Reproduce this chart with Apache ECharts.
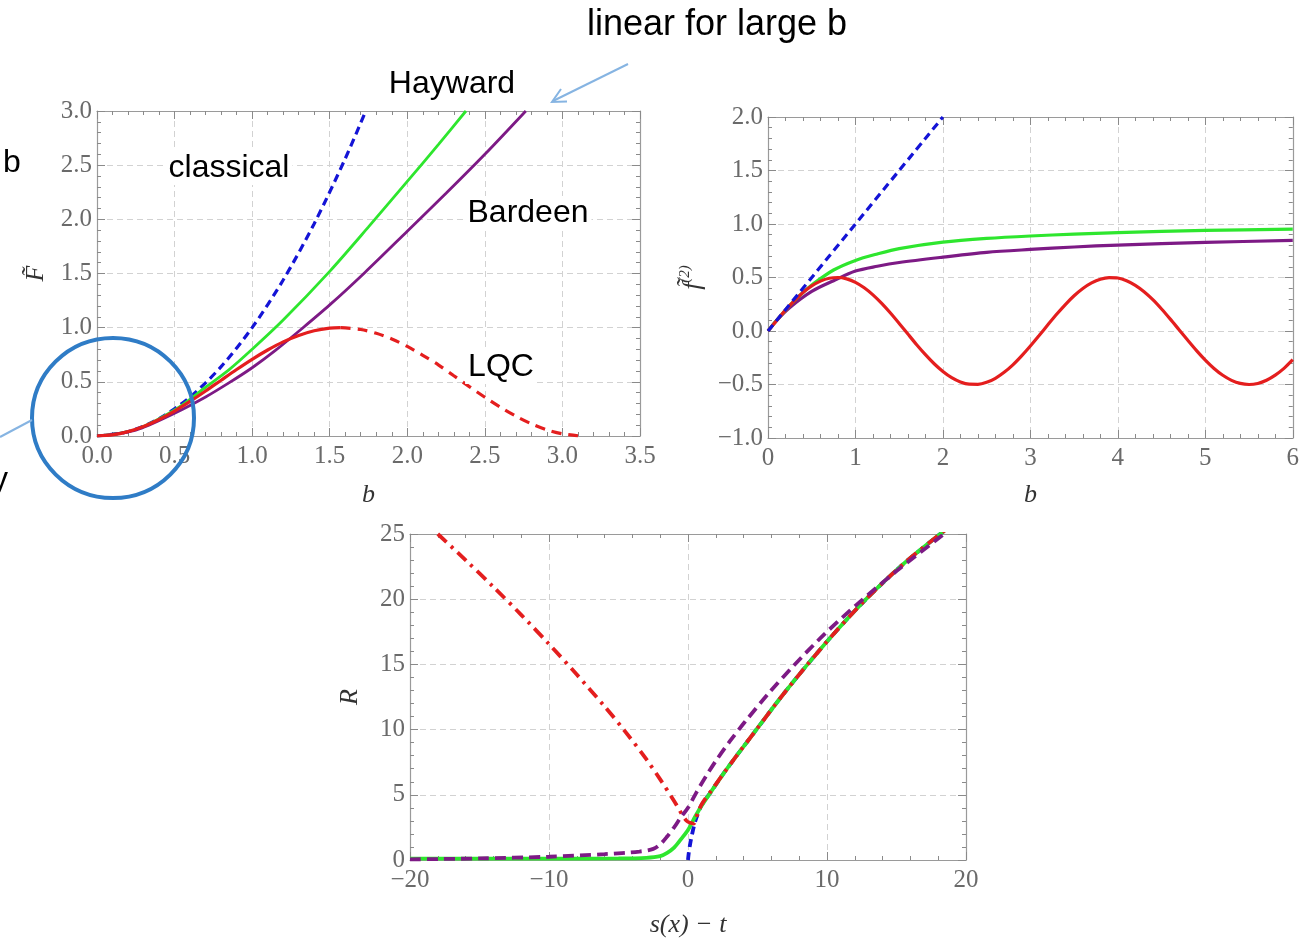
<!DOCTYPE html>
<html>
<head>
<meta charset="utf-8">
<title>F, f2 and R curves</title>
<script src="https://cdn.jsdelivr.net/npm/echarts@6.0.0/dist/echarts.min.js"></script>
<style>
    html, body { margin: 0; padding: 0; background: #fff; overflow: hidden; }
    #main { width: 1302px; height: 940px; }
</style>
</head>
<body>
<div id="main"></div>
<script>
var mychart = echarts.init(document.getElementById('main'));

// ---- panel 1: F~ vs b ----
var fClassical = [[0, 0], [0.2, 0.04], [0.4, 0.16], [0.6, 0.36], [0.8, 0.64], [1.0, 1.0], [1.2, 1.44], [1.4, 1.96], [1.6, 2.56], [1.732, 3.0]];
var fHayward = [[0, 0], [0.25, 0.06], [0.5, 0.24], [0.7, 0.45], [0.85, 0.61], [1.0, 0.8], [1.2, 1.07], [1.5, 1.52], [1.75, 1.93], [2.0, 2.35], [2.2, 2.69], [2.378, 3.0]];
var fBardeen = [[0, 0], [0.25, 0.055], [0.5, 0.21], [0.7, 0.36], [0.85, 0.49], [1.0, 0.63], [1.15, 0.79], [1.32, 0.99], [1.5, 1.21], [1.727, 1.51], [2.0, 1.89], [2.25, 2.24], [2.5, 2.6], [2.764, 3.0]];
var fLqcSolid = [[0, 0], [0.1, 0.01], [0.2, 0.04], [0.3, 0.087], [0.4, 0.152], [0.5, 0.23], [0.6, 0.319], [0.7, 0.415], [0.8, 0.515], [0.9, 0.614], [1.0, 0.708], [1.1, 0.794], [1.2, 0.869], [1.3, 0.928], [1.4, 0.971], [1.5, 0.995], [1.57, 1.0]];
var fLqcDashed = [[1.57, 1.0], [1.7, 0.983], [1.8, 0.948], [1.9, 0.896], [2.0, 0.827], [2.1, 0.745], [2.2, 0.657], [2.3, 0.556], [2.4, 0.456], [2.5, 0.358], [2.6, 0.266], [2.7, 0.183], [2.8, 0.112], [2.9, 0.057], [3.0, 0.02], [3.1, 0.002]];

// ---- panel 2: f~(2) vs b ----
var gClassical = [[0, 0], [2, 2]];
var gHayward = [[0, 0], [0.1, 0.1], [0.25, 0.24], [0.4, 0.36], [0.5, 0.43], [0.75, 0.57], [1, 0.66], [1.25, 0.72], [1.5, 0.77], [2, 0.83], [2.5, 0.865], [3, 0.888], [3.5, 0.905], [4, 0.92], [5, 0.94], [6, 0.952]];
var gBardeen = [[0, 0], [0.1, 0.1], [0.25, 0.22], [0.5, 0.37], [0.75, 0.47], [1, 0.56], [1.25, 0.605], [1.5, 0.64], [2, 0.69], [2.5, 0.735], [3, 0.762], [3.5, 0.785], [4, 0.803], [5, 0.828], [6, 0.847]];
var gLqcB = [0, 0.1, 0.2, 0.3, 0.4, 0.5, 0.6, 0.7, 0.8, 0.9, 1.0, 1.1, 1.2, 1.3, 1.4, 1.5, 1.6, 1.7, 1.8, 1.9, 2.0, 2.1, 2.2, 2.3, 2.4, 2.5, 2.6, 2.7, 2.8, 2.9, 3.0,
    3.1, 3.2, 3.3, 3.4, 3.5, 3.6, 3.7, 3.8, 3.9, 4.0, 4.1, 4.2, 4.3, 4.4, 4.5, 4.6, 4.7, 4.8, 4.9, 5.0, 5.1, 5.2, 5.3, 5.4, 5.5, 5.6, 5.7, 5.8, 5.9, 6.0];
var gLqcV = [0, 0.099, 0.195, 0.282, 0.359, 0.421, 0.466, 0.493, 0.5, 0.487, 0.455, 0.404, 0.338, 0.258, 0.168, 0.071, -0.029, -0.128, -0.221, -0.306, -0.378, -0.436, -0.476, -0.497, -0.498, -0.48, -0.442, -0.386, -0.316, -0.232, -0.14,
    -0.042, 0.058, 0.156, 0.247, 0.329, 0.397, 0.449, 0.484, 0.499, 0.495, 0.47, 0.427, 0.367, 0.293, 0.206, 0.111, 0.012, -0.087, -0.183, -0.272, -0.35, -0.414, -0.461, -0.49, -0.5, -0.49, -0.46, -0.412, -0.349, -0.268];

// ---- panel 3: R vs s(x)-t ----
var rClassical = [[0, 0], [0.05, 0.5], [0.15, 1.2], [0.3, 2.0], [0.5, 2.9], [0.8, 3.8], [1.0, 4.25], [1.7, 5.3], [2.5, 6.55], [3.5, 8.0], [4.85, 9.9], [6.7, 12.5], [8.6, 15], [10.7, 17.6], [12.9, 20.1], [15.6, 22.8], [18.5, 25.3]];
var rHayward = [[-20, 0.1], [-10, 0.1], [-5, 0.12], [-3, 0.17], [-2, 0.3], [-1.5, 0.55], [-1, 0.95], [-0.5, 1.6], [0, 2.3], [0.5, 3.3], [1, 4.2], [1.7, 5.3], [2.5, 6.55], [3.5, 8.0], [4.85, 9.9], [6.7, 12.5], [8.6, 15], [10.7, 17.6], [12.9, 20.1], [15.6, 22.8], [18.5, 25.3]];
var rBardeen = [[-20, 0.05], [-15, 0.12], [-10, 0.25], [-6, 0.45], [-3.5, 0.65], [-2.5, 0.85], [-2, 1.2], [-1.5, 1.8], [-1, 2.5], [-0.5, 3.3], [0, 4.0], [0.6, 5.17], [1.3, 6.43], [2, 7.59], [3, 9.09], [4.1, 10.6], [5.8, 12.78], [7.6, 14.9], [9.8, 17.3], [12.1, 19.55], [15, 22.16], [18.3, 24.9], [18.6, 25.15]];
var rLqc = [[-18, 25], [-16, 23.0], [-14, 20.94], [-12, 18.8], [-10, 16.56], [-8, 14.22], [-6, 11.78], [-4.5, 9.83], [-3, 7.73], [-2, 6.18], [-1, 4.53], [-0.1, 3.0], [0.4, 2.8], [0.7, 3.6], [1.0, 4.3], [1.7, 5.35], [2.5, 6.55], [3.5, 8.0], [4.85, 9.9], [6.7, 12.5], [8.6, 15], [10.7, 17.6], [12.9, 20.1], [15.6, 22.8], [18.5, 25.3]];

var BLUE = '#1414d6', GREEN = '#2ee62e', PURPLE = '#7d1a85', RED = '#e41e1e';
var FRAME = '#9a9a9a';
var SERIF = '"Liberation Serif", "DejaVu Serif", serif';
var SANS = '"Liberation Sans", Arial, sans-serif';

function minusSign(s) {
    return String(s).replace('-', '\u2212');
}

function pair(xs, ys) {
    var out = [];
    for (var i = 0; i < xs.length; i++) {
        out.push([xs[i], ys[i]]);
    }
    return out;
}

var nameStyle = {
    fontFamily: SERIF, fontStyle: 'italic', fontSize: 26, color: '#333',
    rich: {
        f: { fontFamily: SERIF, fontStyle: 'italic', fontSize: 26, color: '#333', lineHeight: 30 },
        s: { fontFamily: SERIF, fontSize: 15, color: '#333', verticalAlign: 'top', lineHeight: 30 }
    }
};

function frameBase(grid, min, max, step) {
    return {
        gridIndex: grid, type: 'value', min: min, max: max, interval: step,
        axisLine: { show: true, onZero: false, lineStyle: { color: FRAME, width: 1.2 } },
        axisTick: { show: true, inside: true, length: 8, lineStyle: { color: '#8a8a8a' } },
        minorTick: { show: true, splitNumber: 5, length: 4, lineStyle: { color: '#8a8a8a' } }
    };
}

// labelled axis plus a bare mirror axis: a Mathematica style frame
function frameAxes(grid, min, max, step, digits, name, nameGap, sides, margin) {
    var main = frameBase(grid, min, max, step);
    main.position = sides[0];
    main.axisLabel = {
        margin: margin, color: '#6a6a6a', fontFamily: SERIF, fontSize: 25,
        formatter: function (v) { return minusSign(v.toFixed(digits)); }
    };
    main.splitLine = { show: true, lineStyle: { color: '#d2d2d2', type: [6, 4] } };
    main.name = name;
    main.nameLocation = 'middle';
    main.nameGap = nameGap;
    main.nameTextStyle = nameStyle;

    var mirror = frameBase(grid, min, max, step);
    mirror.position = sides[1];
    mirror.axisLabel = { show: false };
    mirror.splitLine = { show: false };
    return [main, mirror];
}

function curve(data, axis, color, width, dash, z) {
    return {
        type: 'line',
        xAxisIndex: axis * 2,
        yAxisIndex: axis * 2,
        data: data,
        showSymbol: false,
        symbol: 'none',
        smooth: 0.3,
        z: z,
        silent: true,
        lineStyle: { color: color, width: width, type: dash || 'solid', cap: 'butt' }
    };
}

function note(text, x, y, size, boxed) {
    var st = { text: text, font: size + 'px ' + SANS, fill: '#000', align: 'center', verticalAlign: 'middle' };
    if (boxed) {
        st.backgroundColor = '#fff';
        st.padding = [1, 3];
    }
    return { type: 'text', x: x, y: y, z: 50, style: st };
}

option = {
    backgroundColor: '#fff',
    animation: false,
    grid: [
        { left: 97, top: 111, width: 543, height: 325 },
        { left: 768, top: 117, width: 536, height: 321 },
        { left: 410, top: 534, width: 556, height: 326 }
    ],
    xAxis: [].concat(
        frameAxes(0, 0, 3.5, 0.5, 1, 'b', 46, ['bottom', 'top'], 8),
        frameAxes(1, 0, 6, 1, 0, 'b', 44, ['bottom', 'top'], 8),
        frameAxes(2, -20, 20, 10, 0, 's(x) \u2212 t', 52, ['bottom', 'top'], 8)
    ),
    yAxis: [].concat(
        frameAxes(0, 0, 3, 0.5, 1, 'F\u0303', 48, ['left', 'right'], 5),
        frameAxes(1, -1, 2, 0.5, 1, '{f|f\u0303}{s|(2)}', 60, ['left', 'right'], 5),
        frameAxes(2, 0, 25, 5, 0, 'R', 47, ['left', 'right'], 5)
    ),
    series: [
        // panel 1
        curve(fClassical, 0, BLUE, 3.2, [8, 5], 2),
        curve(fHayward, 0, GREEN, 2.8, 'solid', 3),
        curve(fBardeen, 0, PURPLE, 2.8, 'solid', 4),
        curve(fLqcSolid, 0, RED, 3.2, 'solid', 5),
        curve(fLqcDashed, 0, RED, 3.2, [10, 7], 5),
        // panel 2
        curve(gBardeen, 1, PURPLE, 3.2, 'solid', 2),
        curve(gHayward, 1, GREEN, 3.2, 'solid', 3),
        curve(pair(gLqcB, gLqcV), 1, RED, 3.2, 'solid', 4),
        curve(gClassical, 1, BLUE, 3.2, [8, 5], 5),
        // panel 3
        curve(rClassical, 2, BLUE, 3.8, [8, 5], 2),
        curve(rHayward, 2, GREEN, 3.8, 'solid', 3),
        curve(rLqc, 2, RED, 3.8, [12, 6, 3, 6], 4),
        curve(rBardeen, 2, PURPLE, 3.8, [11, 6], 5)
    ],
    graphic: [
        note('linear for large b', 717, 25, 36, false),
        note('Hayward', 452, 84, 32, false),
        note('classical', 229, 168, 32, true),
        note('Bardeen', 528, 213, 32, true),
        note('LQC', 501, 367, 32, true),
        { type: 'text', x: 3, y: 163, style: { text: 'b', font: '32px ' + SANS, fill: '#000', align: 'left', verticalAlign: 'middle' } },
        { type: 'text', x: -8, y: 480, style: { text: 'y', font: '32px ' + SANS, fill: '#000', align: 'left', verticalAlign: 'middle' } },
        // arrow pointing at the Bardeen line
        { type: 'line', shape: { x1: 628, y1: 64, x2: 553, y2: 101 }, style: { stroke: '#86b4e2', lineWidth: 2 } },
        { type: 'polyline', shape: { points: [[561, 89], [552, 102], [567, 101.5]] }, style: { stroke: '#86b4e2', lineWidth: 2, fill: null } },
        // circle round the small-b region
        { type: 'ellipse', shape: { cx: 113, cy: 418, rx: 81, ry: 80 }, style: { stroke: '#2f7cc6', lineWidth: 4, fill: null }, z: 100 },
        { type: 'line', shape: { x1: 0, y1: 437, x2: 32, y2: 420 }, style: { stroke: '#86b4e2', lineWidth: 2 }, z: 100 }
    ]
};

mychart.setOption(option);
</script>
</body>
</html>
